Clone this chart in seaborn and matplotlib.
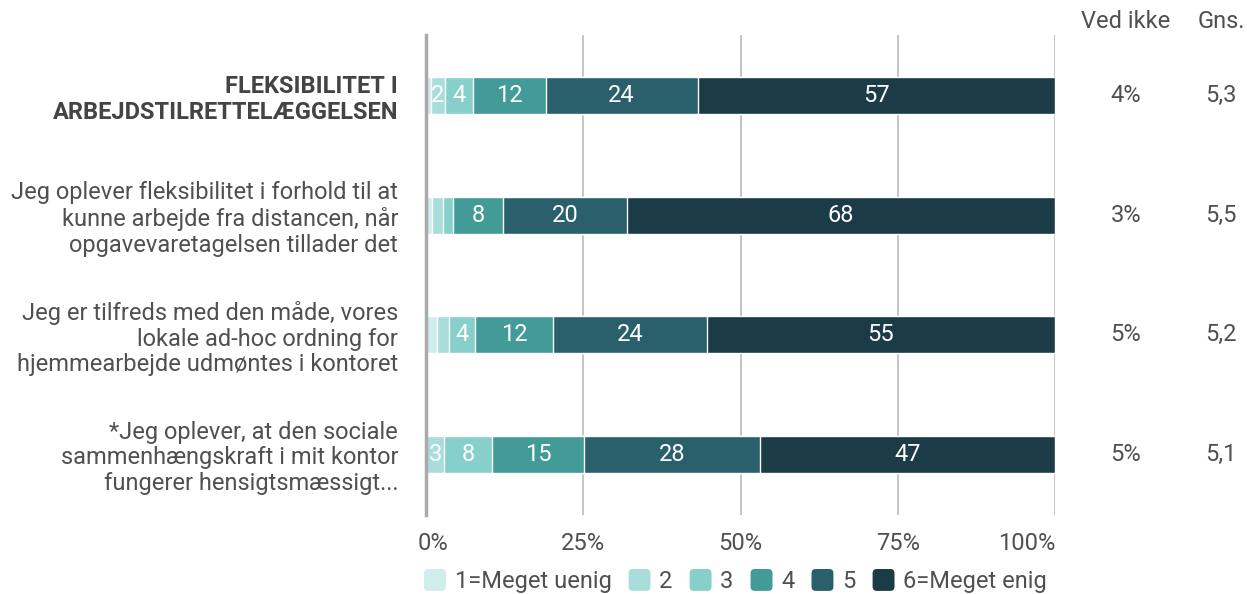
import matplotlib
matplotlib.use("Agg")
import matplotlib.pyplot as plt
import matplotlib.transforms as mtransforms
from matplotlib.patches import FancyBboxPatch
from matplotlib.legend_handler import HandlerPatch
import numpy as np
import pandas as pd
import seaborn as sns

# settings
sns.set_style("white")
plt.rcParams['font.family'] = ['Roboto', 'DejaVu Sans']

# data (share of answers, %)
questions = [
    "FLEKSIBILITET I\nARBEJDSTILRETTELÆGGELSEN",
    "Jeg oplever fleksibilitet i forhold til at\nkunne arbejde fra distancen, når\nopgavevaretagelsen tillader det",
    "Jeg er tilfreds med den måde, vores\nlokale ad-hoc ordning for\nhjemmearbejde udmøntes i kontoret",
    "*Jeg oplever, at den sociale\nsammenhængskraft i mit kontor\nfungerer hensigtsmæssigt...",
]
answer_labels = ["1=Meget uenig", "2", "3", "4", "5", "6=Meget enig"]
s1 = [0.8, 0.9, 1.7, 0.0]
s2 = [2.2, 1.8, 1.9, 2.9]
s3 = [4.4, 1.6, 4.2, 7.6]
s4 = [11.6, 8.0, 12.4, 14.6]
s5 = [24.2, 19.7, 24.4, 28.0]
s6 = [56.8, 68.0, 55.4, 46.9]
ved_ikke = ["4%", "3%", "5%", "5%"]
gns = ["5,3", "5,5", "5,2", "5,1"]

colors = ["#CFEDEB", "#A8DDDB", "#86CFCA", "#429B97", "#2A606C", "#1B3B46"]
text_col = "#505050"
fs = 17

df = pd.DataFrame(dict(zip(answer_labels, [s1, s2, s3, s4, s5, s6])), index=questions)
cum = df.cumsum(axis=1)

fig = plt.figure(figsize=(12.47, 5.94), dpi=100)
ax = fig.add_axes([426 / 1247, 1 - 515 / 594, 629 / 1247, 480 / 594])

# stacked bars: draw cumulative totals from the widest down
for i in range(len(answer_labels) - 1, -1, -1):
    col = answer_labels[i]
    sns.barplot(x=cum[col].values, y=list(range(len(questions))), orient="h",
                color=colors[i], saturation=1, width=0.31, ax=ax)

# segment labels
for r in range(len(questions)):
    for i, col in enumerate(answer_labels):
        v = df[col].iloc[r]
        if v >= 2:
            xc = cum[col].iloc[r] - v / 2
            ax.text(xc, r, f"{round(v):d}", ha="center", va="center",
                    color="white", fontsize=fs)

ax.set_xlim(0, 100)
ax.set_ylim(3.51, -0.51)
ax.set_xticks([0, 25, 50, 75, 100])
ax.set_xticklabels(["0%", "25%", "50%", "75%", "100%"], color=text_col, fontsize=fs)
ax.get_xticklabels()[-1].set_horizontalalignment("right")
ax.get_xticklabels()[0].set_horizontalalignment("left")
ax.set_yticks(range(len(questions)))
ax.set_yticklabels(questions, color=text_col, fontsize=fs, linespacing=1.15)
ax.get_yticklabels()[0].set_fontweight("bold")
ax.get_yticklabels()[0].set_color("#444444")
ax.tick_params(axis="x", length=0, pad=12)
ax.tick_params(axis="y", length=0, pad=20)
ax.set_xlabel("")
ax.set_ylabel("")
ax.xaxis.grid(True, color="#bbbbbb", linewidth=1.2)
ax.set_axisbelow(True)
for side in ["top", "right", "bottom"]:
    ax.spines[side].set_visible(False)
ax.spines["left"].set_color("#aaaaaa")
ax.spines["left"].set_linewidth(2.5)

# shift the 0% label a little left so it sits like the reference
off = mtransforms.ScaledTranslation(-8 / 100, 0, fig.dpi_scale_trans)
lab0 = ax.get_xticklabels()[0]
lab0.set_transform(lab0.get_transform() + off)

# right-hand columns
tr = mtransforms.blended_transform_factory(fig.transFigure, ax.transData)
fig.text(1126 / 1247, 1 - 22 / 594, "Ved ikke", ha="center", va="center",
         color=text_col, fontsize=fs)
fig.text(1221 / 1247, 1 - 22 / 594, "Gns.", ha="center", va="center",
         color=text_col, fontsize=fs)
for r in range(len(questions)):
    ax.text(1126 / 1247, r, ved_ikke[r], transform=tr, ha="center", va="center",
            color=text_col, fontsize=fs)
    ax.text(1221 / 1247, r, gns[r], transform=tr, ha="center", va="center",
            color=text_col, fontsize=fs)


# legend with rounded square handles
class RoundHandler(HandlerPatch):
    def create_artists(self, legend, orig_handle, xdescent, ydescent,
                       width, height, fontsize, trans):
        size = min(width, height)
        p = FancyBboxPatch((-xdescent, -ydescent + (height - size) / 2), size, size,
                           boxstyle="round,pad=0,rounding_size=3",
                           facecolor=orig_handle.get_facecolor(),
                           edgecolor="none", transform=trans)
        return [p]


handles = [FancyBboxPatch((0, 0), 1, 1, facecolor=c, edgecolor="none") for c in colors]
fig.legend(handles, answer_labels, loc="center left", ncol=6, frameon=False,
           bbox_to_anchor=(424 / 1247, 1 - 581 / 594), fontsize=fs,
           handlelength=1.05, handleheight=1.05, handletextpad=0.25,
           columnspacing=0.72, labelcolor=text_col, borderaxespad=0,
           borderpad=0, handler_map={FancyBboxPatch: RoundHandler()})

fig.savefig("out.png", dpi=100)
plt.close()
